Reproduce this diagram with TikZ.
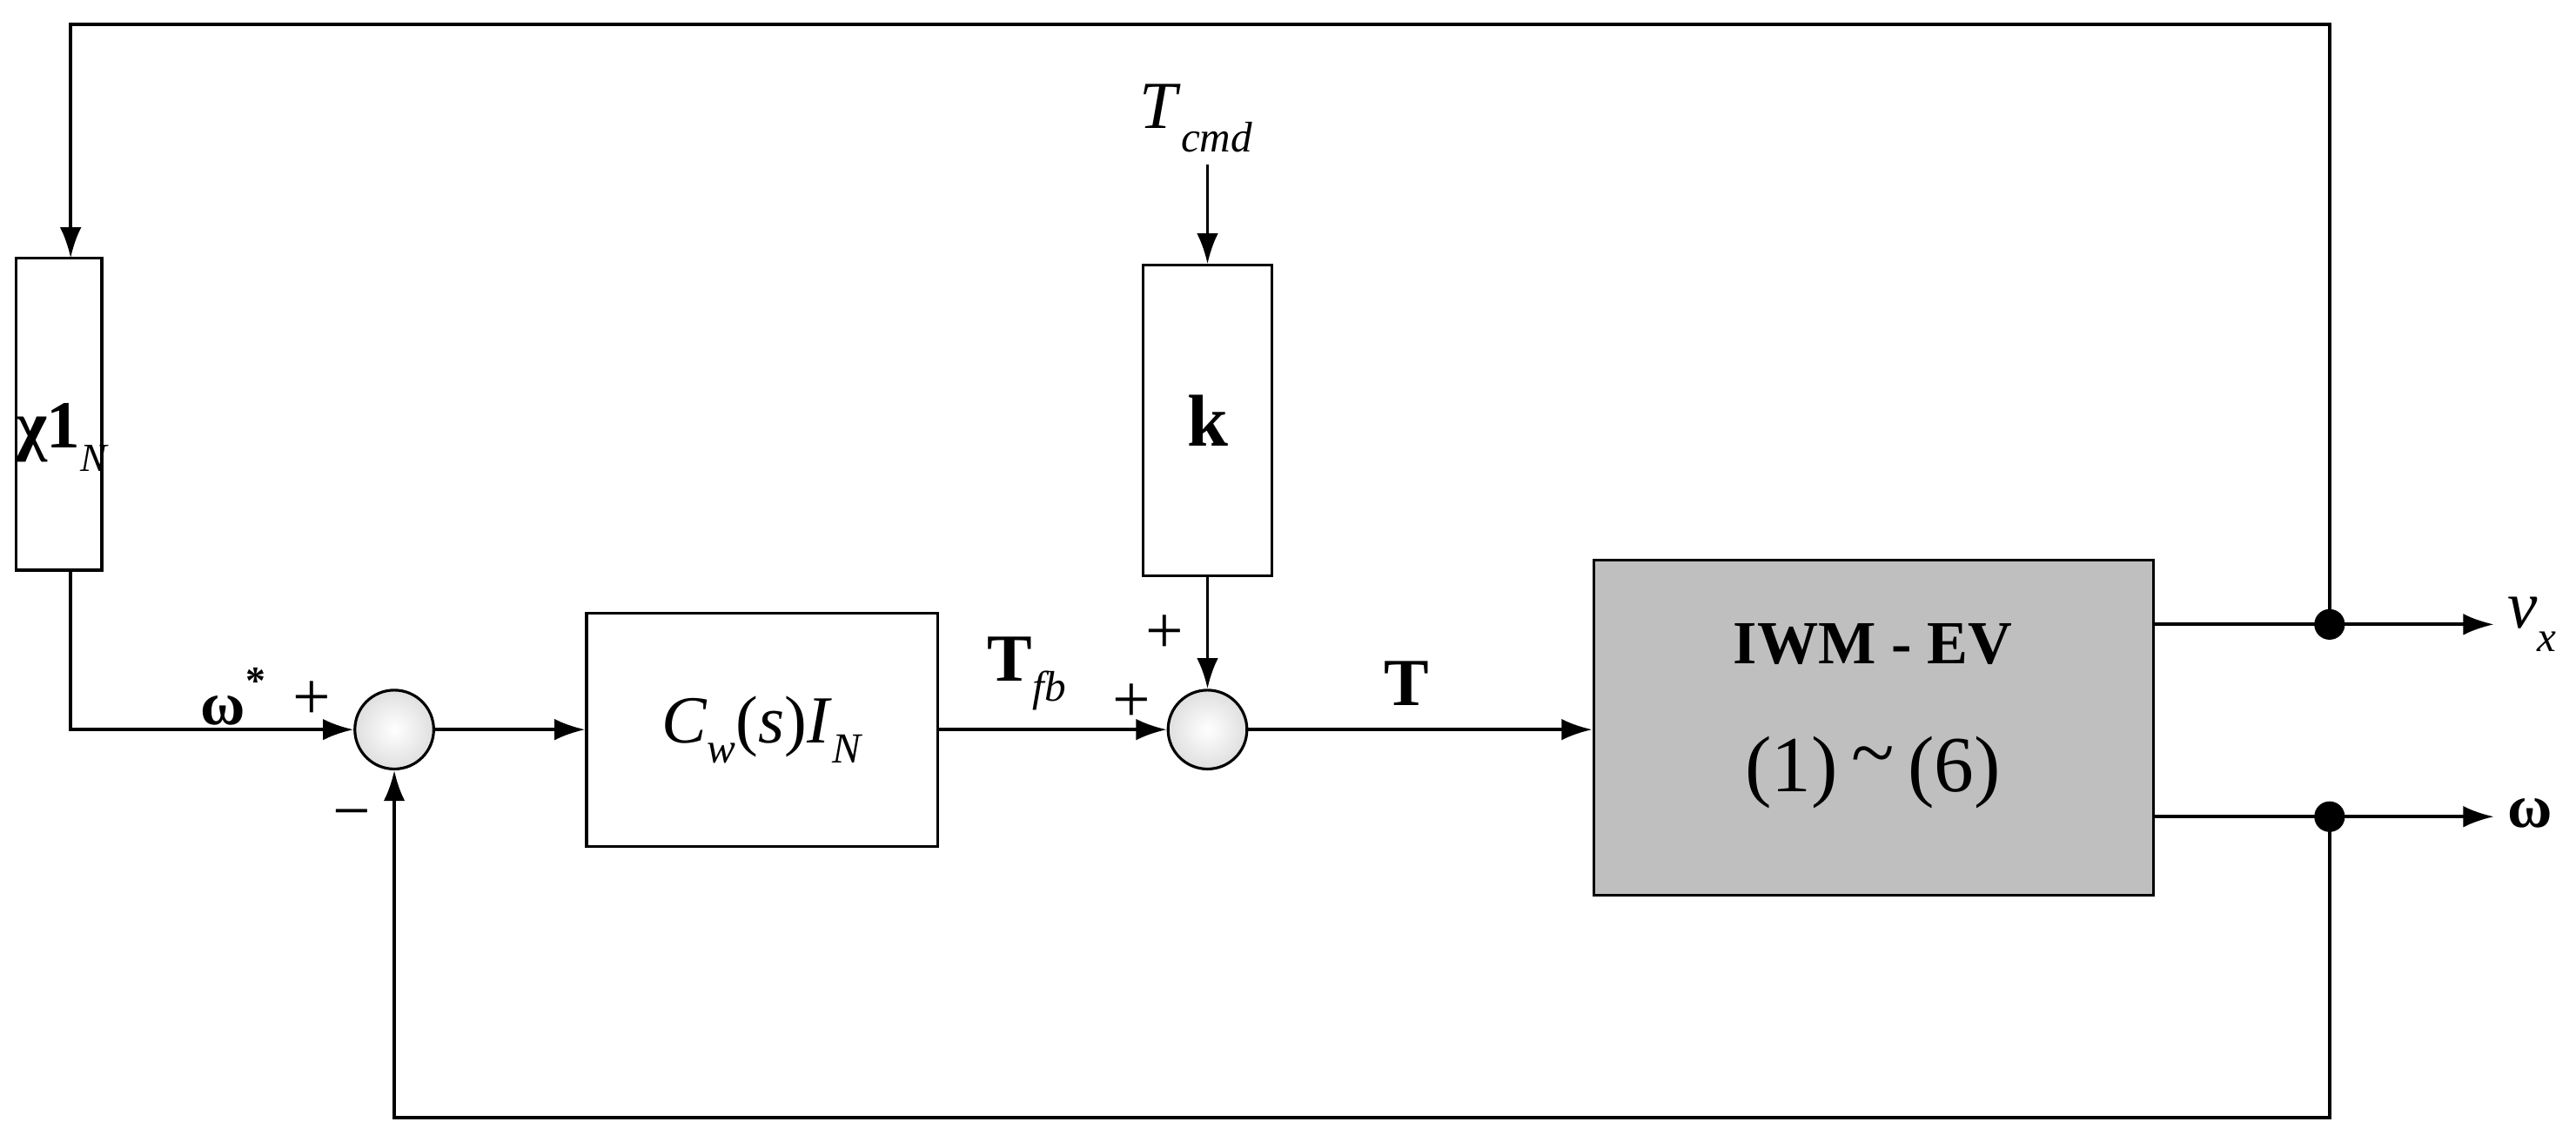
\documentclass[tikz,border=0pt]{standalone}
\usepackage{fontspec}
\setmainfont{Liberation Serif}
\usetikzlibrary{arrows.meta}
\begin{document}
\begin{tikzpicture}[x=0.01888cm,y=-0.01888cm,
  blk/.style={draw,line width=0.9pt,inner sep=0pt},
  sumj/.style={circle,draw,line width=0.9pt,minimum size=48*0.01888cm,inner sep=0pt,inner color=white,outer color=gray!25},
  arr/.style={line width=1.1pt,-{Latex[length=10pt,width=7pt]}},
  ln/.style={line width=1.1pt},
  dot/.style={circle,fill=black,minimum size=10pt,inner sep=0pt},
  lab/.style={font=\fontsize{22}{26}\selectfont}]
\useasboundingbox (0,0) rectangle (1568,694.5);
\node[blk,minimum width=52*0.01888cm,minimum height=190*0.01888cm] (chi) at (36,252) {};
\node[font=\fontsize{22}{26}\selectfont,inner sep=0pt] at (38,266) {\textbf{χ1}\raisebox{-0.35em}{\fontsize{13}{15}\selectfont\textit{N}}};
\node[sumj] (s1) at (240,444) {};
\node[blk,minimum width=214*0.01888cm,minimum height=142*0.01888cm,font=\fontsize{22}{26}\selectfont] (cw) at (464,444) {\textit{C}\raisebox{-0.3em}{\fontsize{14}{16}\selectfont\textit{w}}(\textit{s})\textit{I}\raisebox{-0.3em}{\fontsize{14}{16}\selectfont\textit{N}}};
\node[sumj] (s2) at (735,444) {};
\node[blk,minimum width=78*0.01888cm,minimum height=189*0.01888cm,font=\bfseries\fontsize{24}{28}\selectfont] (k) at (735,256) {k};
\node[font=\fontsize{22}{26}\selectfont] (tc) at (728,72) {\textit{T}\raisebox{-0.35em}{\fontsize{14}{16}\selectfont\textit{cmd}}};
\node[blk,fill=gray!50,minimum width=341*0.01888cm,minimum height=204*0.01888cm] (iwm) at (1140.5,443) {};
\node[font=\bfseries\fontsize{20}{24}\selectfont] at (1140,392) {IWM - EV};
\node[font=\fontsize{26}{30}\selectfont] at (1140,470) {(1)\,\raisebox{0.15em}{\textasciitilde}\,(6)};
\coordinate (d1) at (1418,380);
\coordinate (d2) at (1418,497);
\node[dot] at (d1) {};
\node[dot] at (d2) {};
\coordinate (vx) at (1518,380);
\coordinate (om) at (1518,497);
\node[font=\fontsize{22}{26}\selectfont,anchor=west,inner sep=0pt] at (1526,380) {\textit{v}\raisebox{-0.35em}{\fontsize{14}{16}\selectfont\textit{x}}};
\node[font=\bfseries\fontsize{20}{24}\selectfont,anchor=west,inner sep=0pt] at (1526,495) {ω};
\draw[ln] (1311,380) -- (d1);
\draw[arr] (d1) -- (vx);
\draw[ln] (1311,497) -- (d2);
\draw[arr] (d2) -- (om);
\draw[arr] (d1) -- (1418,15) -- (43,15) -- (43,157);
\draw[arr] (43,347) -- (43,444) -- (s1.west);
\draw[arr] (s1.east) -- (cw.west);
\draw[arr] (cw.east) -- (s2.west);
\draw[arr] (735,100) -- (k.north);
\draw[arr] (k.south) -- (s2.north);
\draw[arr] (s2.east) -- (iwm.west |- s2);
\draw[arr] (d2) -- (1418,680) -- (240,680) -- (s1.south);
\node[font=\bfseries\fontsize{20}{24}\selectfont] at (142,424) {ω\raisebox{0.5em}{\fontsize{13}{15}\selectfont *}};
\node[lab] at (190,426) {+};
\node[lab] at (214,500) {−};
\node[font=\bfseries\fontsize{22}{26}\selectfont] at (625,410) {T\raisebox{-0.3em}{\mdseries\itshape\fontsize{14}{16}\selectfont fb}};
\node[lab] at (689,428) {+};
\node[lab] at (709,386) {+};
\node[font=\bfseries\fontsize{22}{26}\selectfont] at (856,416) {T};
\end{tikzpicture}
\end{document}
